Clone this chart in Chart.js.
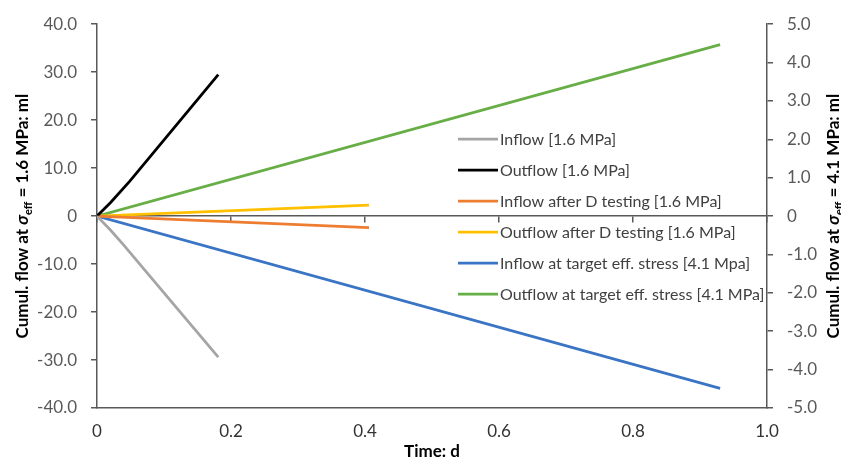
<!DOCTYPE html>
<html lang="en">

<head>
    <meta charset="UTF-8">
    <title>Cumulative flow</title>
    <style>
        body {
            margin: 0;
            background: #fff;
        }
    </style>
</head>

<body>
    <canvas id="flow-chart" width="841" height="462"></canvas>
    <script src="https://cdn.jsdelivr.net/npm/chart.js"></script>
    <script>
        // time (d) and cumulative flow (ml)
        const inflow16Time = [0, 0.02, 0.039, 0.1, 0.181];
        const inflow16 = [0, -2.9, -5.9, -16.0, -29.4];
        const outflow16Time = [0, 0.02, 0.049, 0.181];
        const outflow16 = [0, 2.8, 7.3, 29.5];
        const inflowDTime = [0, 0.406];
        const inflowD = [0, -2.4];
        const outflowDTime = [0, 0.406];
        const outflowD = [0, 2.3];
        const inflow41Time = [0, 0.93];
        const inflow41 = [0, -4.49];
        const outflow41Time = [0, 0.93];
        const outflow41 = [0, 4.47];

        const seriesLabels = [
            'Inflow [1.6 MPa]',
            'Outflow [1.6 MPa]',
            'Inflow after D testing [1.6 MPa]',
            'Outflow after D testing [1.6 MPa]',
            'Inflow at target eff. stress [4.1 Mpa]',
            'Outflow at target eff. stress [4.1 MPa]'
        ];
        const xTicks = [0, 0.2, 0.4, 0.6, 0.8, 1.0];
        const leftTicks = [40, 30, 20, 10, 0, -10, -20, -30, -40];
        const rightTicks = [5, 4, 3, 2, 1, 0, -1, -2, -3, -4, -5];

        const pts = (xs, ys) => xs.map((x, i) => ({ x: x, y: ys[i] }));
        const fmt = v => v === 0 ? '0' : v.toFixed(1);

        const FONT = 'Lato, "Open Sans", sans-serif';
        const AXIS = '#595959';

        function line(label, data, color, axis) {
            return {
                label: label,
                data: data,
                borderColor: color,
                backgroundColor: color,
                borderWidth: 2.8,
                pointRadius: 0,
                tension: 0,
                fill: false,
                yAxisID: axis
            };
        }

        // rotated axis titles with italic sigma and "eff" subscript
        function drawRichTitle(ctx, cx, cy, value) {
            const parts = [
                { t: 'Cumul. flow at ', f: 'bold 17px ' + FONT, dy: 0 },
                { t: 'σ', f: 'italic bold 17px ' + FONT, dy: 0 },
                { t: 'eff', f: 'bold 11px ' + FONT, dy: 4 },
                { t: ' = ' + value + ' MPa: ml', f: 'bold 17px ' + FONT, dy: 0 }
            ];
            ctx.save();
            let total = 0;
            parts.forEach(p => { ctx.font = p.f; p.w = ctx.measureText(p.t).width; total += p.w; });
            ctx.translate(cx, cy);
            ctx.rotate(-Math.PI / 2);
            ctx.fillStyle = '#000';
            ctx.textBaseline = 'alphabetic';
            let x = -total / 2;
            parts.forEach(p => {
                ctx.font = p.f;
                ctx.fillText(p.t, x, 6 + p.dy);
                x += p.w;
            });
            ctx.restore();
        }

        const titlesPlugin = {
            id: 'richTitles',
            afterDraw(chart) {
                const a = chart.chartArea;
                const cy = (a.top + a.bottom) / 2;
                drawRichTitle(chart.ctx, 22, cy, '1.6');
                drawRichTitle(chart.ctx, 833, cy, '4.1');
            }
        };

        const legendPlugin = {
            id: 'innerLegend',
            afterDatasetsDraw(chart) {
                const ctx = chart.ctx;
                const a = chart.chartArea;
                const left = a.left + 361;
                const top = a.top + 115;
                ctx.save();
                ctx.font = '16px ' + FONT;
                ctx.textBaseline = 'middle';
                chart.data.datasets.forEach((ds, i) => {
                    const y = top + i * 31;
                    ctx.strokeStyle = ds.borderColor;
                    ctx.lineWidth = 2.8;
                    ctx.beginPath();
                    ctx.moveTo(left, y);
                    ctx.lineTo(left + 40, y);
                    ctx.stroke();
                    ctx.fillStyle = '#404040';
                    ctx.fillText(ds.label, left + 42, y + 1);
                });
                ctx.restore();
            }
        };

        const ctx = document.getElementById('flow-chart').getContext('2d');
        new Chart(ctx, {
            type: 'line',
            data: {
                datasets: [
                    line(seriesLabels[0], pts(inflow16Time, inflow16), '#A5A5A5', 'y'),
                    line(seriesLabels[1], pts(outflow16Time, outflow16), '#000000', 'y'),
                    line(seriesLabels[2], pts(inflowDTime, inflowD), '#ED7D31', 'y'),
                    line(seriesLabels[3], pts(outflowDTime, outflowD), '#FFC000', 'y'),
                    line(seriesLabels[4], pts(inflow41Time, inflow41), '#3A74C4', 'y1'),
                    line(seriesLabels[5], pts(outflow41Time, outflow41), '#66AE45', 'y1')
                ]
            },
            options: {
                responsive: false,
                animation: false,
                layout: { padding: { top: 22, left: 0, right: 0, bottom: 0 } },
                plugins: {
                    legend: { display: false },
                    tooltip: { enabled: false }
                },
                scales: {
                    x: {
                        type: 'linear',
                        position: 'bottom',
                        min: 0,
                        max: 1,
                        afterBuildTicks: s => { s.ticks = xTicks.map(v => ({ value: v })); },
                        afterFit: s => { s.height = 54; },
                        grid: { display: false, drawTicks: false },
                        border: { display: true, color: AXIS, width: 1.5 },
                        ticks: {
                            padding: 13,
                            color: '#333',
                            font: { family: FONT, size: 17 },
                            callback: v => v === 0 ? '0' : v.toFixed(1)
                        },
                        title: {
                            display: true,
                            text: 'Time: d',
                            color: '#000',
                            font: { family: FONT, size: 17, weight: 'bold' },
                            padding: { top: 0, bottom: 0 }
                        }
                    },
                    x2: {
                        type: 'linear',
                        axis: 'x',
                        position: { y: 0 },
                        min: 0,
                        max: 1,
                        afterBuildTicks: s => { s.ticks = xTicks.map(v => ({ value: v })); },
                        grid: { display: true, drawOnChartArea: false, drawTicks: true, tickLength: 6, color: AXIS, lineWidth: 1.5 },
                        border: { display: true, color: AXIS, width: 1.5 },
                        ticks: { display: false }
                    },
                    y: {
                        position: 'left',
                        min: -40,
                        max: 40,
                        afterBuildTicks: s => { s.ticks = leftTicks.map(v => ({ value: v })); },
                        afterFit: s => { s.width = 97; },
                        grid: { display: true, drawOnChartArea: false, drawTicks: true, tickLength: 6, color: AXIS, lineWidth: 1.5 },
                        border: { display: true, color: AXIS, width: 1.5 },
                        ticks: {
                            padding: 14,
                            color: AXIS,
                            font: { family: FONT, size: 17 },
                            callback: fmt
                        }
                    },
                    y1: {
                        position: 'right',
                        min: -5,
                        max: 5,
                        afterBuildTicks: s => { s.ticks = rightTicks.map(v => ({ value: v })); },
                        afterFit: s => { s.width = 74; },
                        grid: { display: true, drawOnChartArea: false, drawTicks: true, tickLength: 6, color: AXIS, lineWidth: 1.5 },
                        border: { display: true, color: AXIS, width: 1.5 },
                        ticks: {
                            padding: 14,
                            color: AXIS,
                            font: { family: FONT, size: 17 },
                            callback: fmt
                        }
                    }
                }
            },
            plugins: [titlesPlugin, legendPlugin]
        });
    </script>
</body>

</html>
